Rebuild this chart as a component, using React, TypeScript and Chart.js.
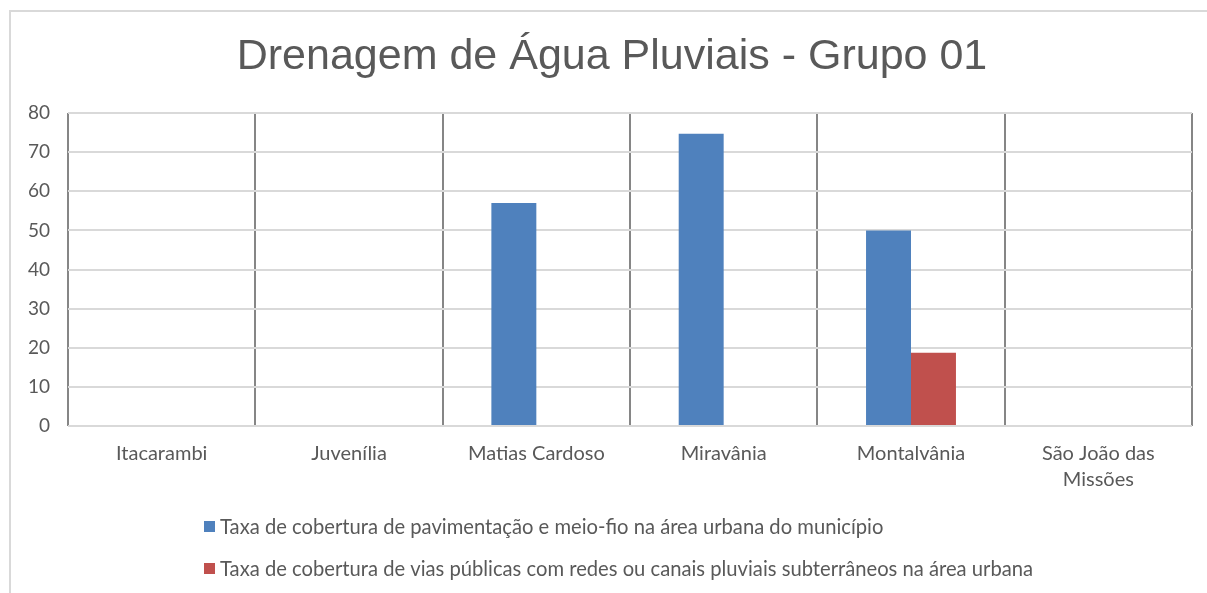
import React, { useEffect, useRef } from "react";
import { Chart, registerables } from "chart.js";

Chart.register(...registerables);

const categories: (string | string[])[] = [
  "Itacarambi",
  "Juvenília",
  "Matias Cardoso",
  "Miravânia",
  "Montalvânia",
  ["São João das", "Missões"],
];
const pavimentacao: (number | null)[] = [null, null, 57, 74.7, 50, null];
const redesPluviais: (number | null)[] = [null, null, null, null, 18.7, null];
const seriesNames = [
  "Taxa de cobertura de pavimentação e meio-fio na área urbana do município",
  "Taxa de cobertura de vias públicas com redes ou canais pluviais subterrâneos na área urbana",
];
const yTicks = [0, 10, 20, 30, 40, 50, 60, 70, 80];
const title = "Drenagem de Água Pluviais - Grupo 01";

const TEXT = "#595959";
const FONT = "Lato";

const framePlugin = {
  id: "frame",
  beforeDraw(chart: any) {
    const ctx = chart.ctx;
    ctx.save();
    ctx.strokeStyle = "#d9d9d9";
    ctx.lineWidth = 2;
    ctx.beginPath();
    ctx.moveTo(10, 600);
    ctx.lineTo(10, 11);
    ctx.lineTo(1210, 11);
    ctx.stroke();
    ctx.fillStyle = TEXT;
    ctx.font = `43px "Liberation Sans"`;
    ctx.textAlign = "center";
    ctx.textBaseline = "middle";
    ctx.fillText(chart.options.plugins.customTitle.text, 612, 57);
    ctx.restore();
  },
};

const legendPlugin = {
  id: "customLegend",
  afterDraw(chart: any) {
    const ctx = chart.ctx;
    const rows = [527, 569];
    ctx.save();
    ctx.font = `20.2px ${FONT}`;
    ctx.textBaseline = "middle";
    ctx.textAlign = "left";
    chart.data.datasets.forEach((ds: any, i: number) => {
      const y = rows[i];
      ctx.fillStyle = ds.backgroundColor;
      ctx.fillRect(204, y - 6, 11, 11);
      ctx.fillStyle = TEXT;
      ctx.fillText(ds.label, 220, y);
    });
    ctx.restore();
  },
};

export default function App() {
  const ref = useRef<HTMLCanvasElement>(null);
  useEffect(() => {
    if (!ref.current) return;
    const chart = new Chart(ref.current, {
      type: "bar",
      data: {
        labels: categories,
        datasets: [
          { label: seriesNames[0], data: pavimentacao, backgroundColor: "#4F81BD" },
          { label: seriesNames[1], data: redesPluviais, backgroundColor: "#C0504D" },
        ],
      },
      options: {
        responsive: false,
        animation: false,
        layout: { padding: { left: 12, right: 15, top: 113, bottom: 100 } },
        datasets: { bar: { categoryPercentage: 0.48, barPercentage: 1 } },
        plugins: {
          legend: { display: false },
          tooltip: { enabled: false },
          title: { display: false },
          customTitle: { text: title },
        } as any,
        scales: {
          x: {
            grid: { color: "#868686", lineWidth: 2, drawTicks: false, offset: true },
            border: { display: false },
            ticks: { color: TEXT, font: { family: FONT, size: 20, lineHeight: 1.3 }, padding: 15, maxRotation: 0, autoSkip: false },
            afterFit: (s: any) => { s.height = 67; },
          },
          y: {
            min: 0,
            max: 80,
            afterBuildTicks: (s: any) => { s.ticks = yTicks.map((v) => ({ value: v })); },
            grid: { color: "#d9d9d9", lineWidth: 2, drawTicks: false },
            border: { display: false },
            ticks: { color: TEXT, font: { family: FONT, size: 19 }, padding: 18 },
            afterFit: (s: any) => { s.width = 56; },
          },
        },
      },
      plugins: [framePlugin, legendPlugin],
    });
    return () => chart.destroy();
  }, []);
  return (
    <div style={{ position: "fixed", left: 0, top: 0, width: 1207, height: 593, background: "#fff" }}>
      <canvas ref={ref} width={1207} height={593} />
    </div>
  );
}
